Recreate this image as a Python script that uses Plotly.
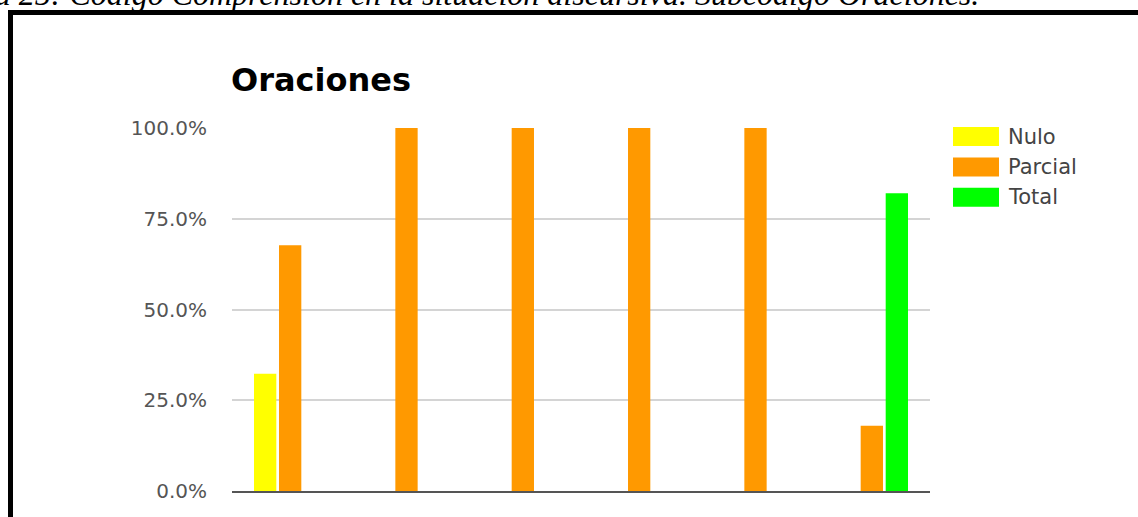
import plotly.graph_objects as go

# ---- data ----
categories = ["1", "2", "3", "4", "5", "6"]
series_names = ["Nulo", "Parcial", "Total"]
nulo = [0.323, 0.0, 0.0, 0.0, 0.0, 0.0]
parcial = [0.677, 1.0, 1.0, 1.0, 1.0, 0.18]
total = [0.0, 0.0, 0.0, 0.0, 0.0, 0.82]
colors = ["#FFFF00", "#FF9900", "#00FF00"]
y_ticks = [0, 0.25, 0.5, 0.75, 1.0]
chart_title = "Oraciones"
caption = "Tabla 25: Código Comprensión en la situación discursiva. Subcódigo Oraciones."

W, H = 1138, 517
L, R, T, B = 232, 930, 128, 491


def px(x):
    return (x - L) / (R - L)


def py(y):
    return (B - y) / (B - T)


fig = go.Figure()
for name, vals, col in zip(series_names, [nulo, parcial, total], colors):
    fig.add_trace(go.Bar(x=categories, y=vals, name=name, marker_color=col,
                         marker_line_width=0, showlegend=False))

shapes = []
# outer black frame (top and left edges visible)
shapes.append(dict(type="rect", xref="paper", yref="paper",
                   x0=px(8), x1=px(1140), y0=py(15), y1=py(10),
                   fillcolor="black", line_width=0, layer="above"))
shapes.append(dict(type="rect", xref="paper", yref="paper",
                   x0=px(8), x1=px(13), y0=py(520), y1=py(10),
                   fillcolor="black", line_width=0, layer="above"))

annotations = []
# custom legend
leg_y = [136.5, 167, 197.3]
for name, col, yc in zip(series_names, colors, leg_y):
    shapes.append(dict(type="rect", xref="paper", yref="paper",
                       x0=px(953), x1=px(999), y0=py(yc + 9.5), y1=py(yc - 9.5),
                       fillcolor=col, line_width=0))
    annotations.append(dict(text=name, xref="paper", yref="paper",
                            x=px(1006), y=py(yc), xanchor="left", yanchor="middle",
                            showarrow=False,
                            font=dict(family="DejaVu Sans", size=21, color="#444444")))

# title
annotations.append(dict(text="<b>" + chart_title + "</b>", xref="paper", yref="paper",
                        x=px(229), y=py(80), xanchor="left", yanchor="middle",
                        showarrow=False,
                        font=dict(family="DejaVu Sans", size=32, color="#000000")))

# caption (partially cut at top of page)
annotations.append(dict(text="<i>" + caption + "</i>", xref="paper", yref="paper",
                        x=px(981), y=py(-6), xanchor="right", yanchor="middle",
                        showarrow=False,
                        font=dict(family="Liberation Serif", size=32, color="#000000")))

fig.update_layout(
    width=W, height=H,
    margin=dict(l=L, r=W - R, t=T, b=H - B, pad=0),
    paper_bgcolor="white", plot_bgcolor="white",
    barmode="group", bargap=0.355, bargroupgap=0.108,
    shapes=shapes, annotations=annotations,
    xaxis=dict(showticklabels=False, showgrid=False, showline=True,
               linecolor="#555555", linewidth=2, ticks="", zeroline=False),
    yaxis=dict(range=[0, 1], tickvals=y_ticks, tickformat=".1%",
               showgrid=True, gridcolor="#d4d4d4", gridwidth=1.5,
               zeroline=False, showline=False, ticks="",
               ticklabelstandoff=24,
               tickfont=dict(family="DejaVu Sans", size=20, color="#555555")),
)

fig.write_html("out.html", config={"displayModeBar": False},
               post_script="document.body.style.margin='0';document.body.style.overflow='hidden';")
